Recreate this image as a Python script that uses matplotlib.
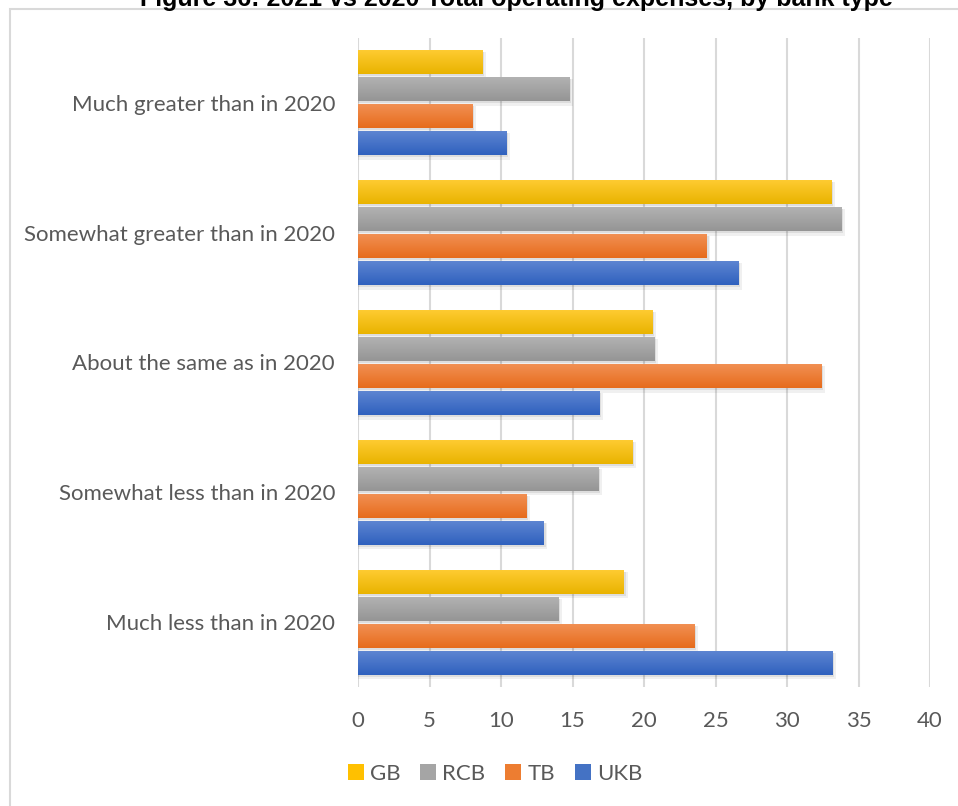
import numpy as np
import matplotlib
matplotlib.use("Agg")
import matplotlib.pyplot as plt
from matplotlib.colors import LinearSegmentedColormap
from matplotlib.patches import Rectangle, Patch

# ---- data (categories listed bottom-to-top as drawn) ----
categories = ["Much less than in 2020", "Somewhat less than in 2020",
              "About the same as in 2020", "Somewhat greater than in 2020",
              "Much greater than in 2020"]
series_names = ["GB", "RCB", "TB", "UKB"]
gb = [18.6, 19.2, 20.6, 33.1, 8.7]
rcb = [14.0, 16.8, 20.7, 33.8, 14.8]
tb = [23.5, 11.8, 32.4, 24.4, 8.0]
ukb = [33.2, 13.0, 16.9, 26.6, 10.4]
xticks = [0, 5, 10, 15, 20, 25, 30, 35, 40]
title = "Figure 36: 2021 vs 2020 Total operating expenses, by bank type"

# ---- style ----
colors = {"GB": ("#E9B300", "#FFCC33", "#FFC000"),
          "RCB": ("#959595", "#B3B3B3", "#A5A5A5"),
          "TB": ("#E66C1C", "#F29155", "#ED7D31"),
          "UKB": ("#2F61BE", "#5F86D2", "#4472C4")}
values = {"GB": gb, "RCB": rcb, "TB": tb, "UKB": ukb}
offsets = {"GB": 1.5, "RCB": 0.5, "TB": -0.5, "UKB": -1.5}
step = 0.208
bar_h = 0.185
txt_color = "#595959"
font = ["Lato", "DejaVu Sans"]
fs = 16

W, H = 958, 806
fig = plt.figure(figsize=(W / 100, H / 100), dpi=100)
fig.patch.set_facecolor("white")

# chart border
fig.add_artist(Rectangle((10 / W, -0.1), 1.2, 1 - 9 / H + 0.1,
                         transform=fig.transFigure, fill=False,
                         edgecolor="#D9D9D9", linewidth=1.5))

ax = fig.add_axes([358 / W, 1 - 687 / H, (930 - 358) / W, (687 - 38) / H])
ypos = np.arange(len(categories))

for name in series_names:
    vals = np.array(values[name])
    y = ypos + offsets[name] * step
    # soft shadow
    ax.barh(y - 0.025, vals + 0.25, height=bar_h + 0.02, color="black",
            alpha=0.06, zorder=2, linewidth=0)
    ax.barh(y - 0.015, vals + 0.12, height=bar_h, color="black",
            alpha=0.08, zorder=2, linewidth=0)
    bars = ax.barh(y, vals, height=bar_h, color=colors[name][2],
                   zorder=3, linewidth=0)
    cmap = LinearSegmentedColormap.from_list(name, [colors[name][0], colors[name][1]])
    grad = np.linspace(0, 1, 64).reshape(-1, 1)
    for b in bars:
        x0, y0, w, h = b.get_x(), b.get_y(), b.get_width(), b.get_height()
        im = ax.imshow(grad, extent=[x0, x0 + w, y0, y0 + h], origin="lower",
                       cmap=cmap, aspect="auto", zorder=4, interpolation="bilinear")
        im.set_clip_path(b)

ax.set_xlim(0, 40)
ax.set_ylim(-0.5, len(categories) - 0.5)
ax.set_xticks(xticks)
ax.set_xticklabels([str(t) for t in xticks], fontfamily=font, fontsize=fs,
                   color=txt_color)
ax.set_yticks(ypos)
ax.set_yticklabels(categories, fontfamily=font, fontsize=fs, color=txt_color)
ax.tick_params(axis="both", length=0)
ax.tick_params(axis="x", pad=17)
ax.tick_params(axis="y", pad=16.5)
ax.grid(axis="x", color="#D9D9D9", linewidth=1.5, zorder=0)
ax.set_axisbelow(True)
for s in ax.spines.values():
    s.set_visible(False)

# title (cut off at top as in reference)
fig.text(516 / W, 1 - 6 / H, title, ha="center", va="baseline",
         fontfamily=["Liberation Sans", "DejaVu Sans"], fontweight="bold",
         fontsize=18, color="black")

handles = [Patch(facecolor=colors[n][2], edgecolor="none") for n in series_names]
fig.legend(handles, series_names, loc="center", bbox_to_anchor=(495 / W, 1 - 774 / H),
           ncol=4, frameon=False, handlelength=0.72, handleheight=0.72,
           handletextpad=0.27, columnspacing=0.9,
           prop={"family": font, "size": fs}, labelcolor=txt_color)

fig.savefig("out.png", dpi=100, facecolor="white")
